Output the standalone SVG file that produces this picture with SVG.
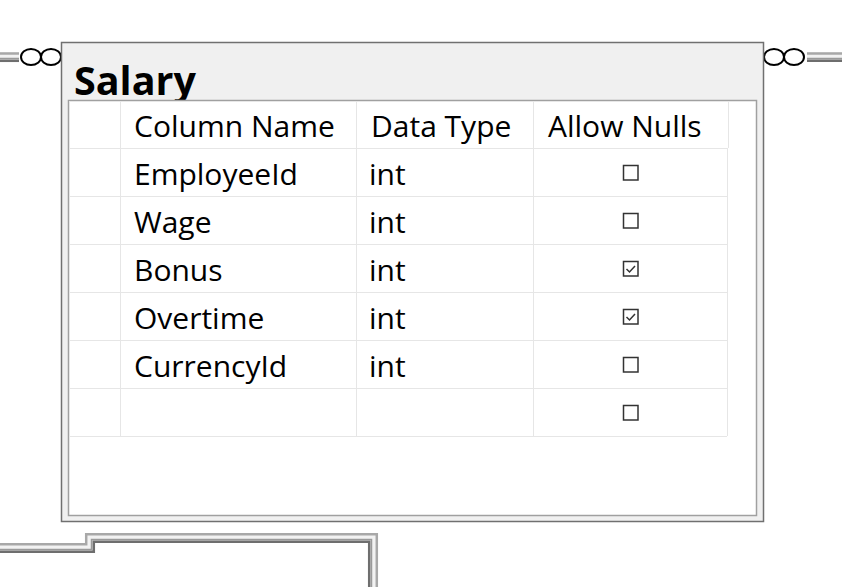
<svg xmlns="http://www.w3.org/2000/svg" width="842" height="587" viewBox="0 0 842 587">
<style>
  .txt { font-family: "Open Sans", "Liberation Sans", sans-serif; font-size: 30px; fill: #000; }
  .title { font-family: "Open Sans", "Liberation Sans", sans-serif; font-size: 39.5px; font-weight: bold; fill: #000; }
  .grid { stroke: #e6e6e6; stroke-width: 1; fill: none; }
  .cb { fill: #fff; stroke: #333; stroke-width: 1.5; }
  .ck { fill: none; stroke: #333; stroke-width: 1.5; }
  .ring { fill: #fff; stroke: #000; stroke-width: 2; }
  .tube-base { fill: none; stroke: #f2f2f2; stroke-width: 10; }
  .tube-light { fill: none; stroke: #a8a8a8; stroke-width: 2.5; }
  .tube-mid { fill: none; stroke: #9a9a9a; stroke-width: 1.5; }
  .tube-dark { fill: none; stroke: #6e6e6e; stroke-width: 2.5; }
</style>
<rect width="842" height="587" fill="#fff"/>

<g id="connectors">
  <!-- left relationship line -->
  <g>
    <path class="tube-base" d="M0,57 H19"/>
    <path class="tube-light" d="M0,53.5 H19"/>
    <path class="tube-mid" d="M0,58.5 H19"/>
    <path class="tube-dark" d="M0,60.8 H19"/>
    <ellipse class="ring" cx="31" cy="57" rx="10" ry="8"/>
    <ellipse class="ring" cx="51" cy="57" rx="10" ry="8"/>
  </g>
  <!-- right relationship line -->
  <g>
    <path class="tube-base" d="M807,57 H842"/>
    <path class="tube-light" d="M807,53.5 H842"/>
    <path class="tube-mid" d="M807,58.5 H842"/>
    <path class="tube-dark" d="M807,60.8 H842"/>
    <ellipse class="ring" cx="774" cy="57" rx="10" ry="8"/>
    <ellipse class="ring" cx="794" cy="57" rx="10" ry="8"/>
  </g>
  <!-- bottom relationship line -->
  <g>
    <path class="tube-base" d="M0,548 H90 V538 H373 V587"/>
    <path class="tube-light" d="M0,544.2 H86.2 V534.2 H376.8 V587"/>
    <path class="tube-mid" d="M0,549.5 H91.5 V539.5 H371.5 V587"/>
    <path class="tube-dark" d="M0,551.8 H93.8 V541.8 H369.2 V587"/>
  </g>
</g>

<g id="salary">
  <rect x="61.5" y="42.5" width="702" height="479" fill="#f0f0f0" stroke="#707070" stroke-width="1.5"/>
  <text class="title" x="74" y="94.5">Salary</text>
  <rect x="68.5" y="100.5" width="688" height="415" fill="#fff" stroke="#a0a0a0" stroke-width="1.5"/>
  <!-- grid -->
  <g class="grid">
    <path d="M70,148.5 H728 M70,196.5 H727 M70,244.5 H727 M70,292.5 H727 M70,340.5 H727 M70,388.5 H727 M70,436.5 H727"/>
    <path d="M120.5,101 V436 M356.5,101 V436 M533.5,101 V436 M728.5,101 V148 M727.5,148 V436 M69.5,101 V436"/>
  </g>
  <!-- header -->
  <text class="txt" x="134" y="137">Column Name</text>
  <text class="txt" x="371" y="137">Data Type</text>
  <text class="txt" x="548" y="137">Allow Nulls</text>
  <!-- rows -->
  <text class="txt" x="134" y="184.5">EmployeeId</text>
  <text class="txt" x="369" y="184.5">int</text>
  <text class="txt" x="134" y="232.5">Wage</text>
  <text class="txt" x="369" y="232.5">int</text>
  <text class="txt" x="134" y="280.5">Bonus</text>
  <text class="txt" x="369" y="280.5">int</text>
  <text class="txt" x="134" y="328.5">Overtime</text>
  <text class="txt" x="369" y="328.5">int</text>
  <text class="txt" x="134" y="376.5">CurrencyId</text>
  <text class="txt" x="369" y="376.5">int</text>
  <!-- checkboxes -->
  <rect class="cb" x="623.5" y="165.5" width="14.5" height="14.5"/>
  <rect class="cb" x="623.5" y="213.5" width="14.5" height="14.5"/>
  <rect class="cb" x="623.5" y="261.5" width="14.5" height="14.5"/>
  <path class="ck" d="M626.5,269 L629.5,272 L635,266"/>
  <rect class="cb" x="623.5" y="309.5" width="14.5" height="14.5"/>
  <path class="ck" d="M626.5,317 L629.5,320 L635,314"/>
  <rect class="cb" x="623.5" y="357.5" width="14.5" height="14.5"/>
  <rect class="cb" x="623.5" y="405.5" width="14.5" height="14.5"/>
</g>
</svg>
